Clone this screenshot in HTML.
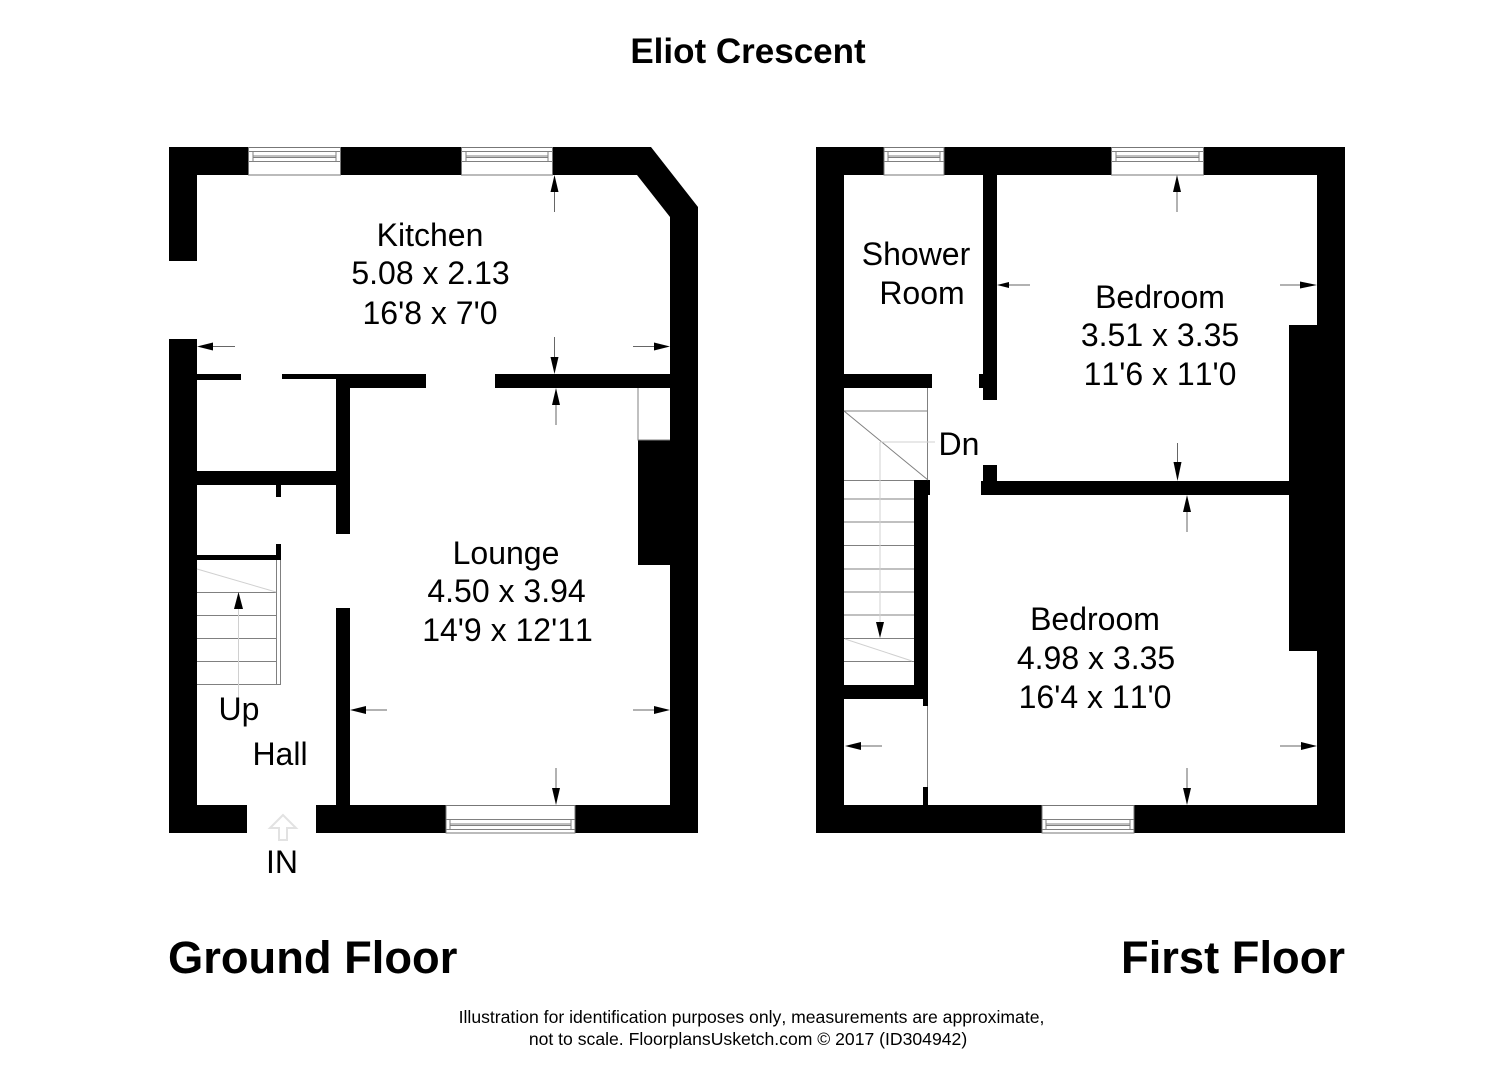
<!DOCTYPE html>
<html><head><meta charset="utf-8"><title>Eliot Crescent</title>
<style>
html,body{margin:0;padding:0;background:#fff}
svg{display:block}
text{font-family:"Liberation Sans",Arial,sans-serif;fill:#000;font-kerning:none}
.r{font-size:32px;text-anchor:middle}
.b{font-weight:bold}
.f{font-size:17.6px;text-anchor:middle}
.g{stroke:#808080;stroke-width:1;fill:none}
.l{stroke:#d0d0d0;stroke-width:1;fill:none}
.w{stroke:#777;stroke-width:1;fill:#fff}
.a{stroke:#666;stroke-width:1;fill:none}
</style></head><body>
<svg width="1496" height="1080" viewBox="0 0 1496 1080" xmlns="http://www.w3.org/2000/svg">
<rect width="1496" height="1080" fill="#fff"/>

<!-- Ground floor walls -->
<g fill="#000">
<polygon points="169,147 651,147 698,207 698,833 169,833 169,339 197,339 197,805 670,805 670,217 637,175 197,175 197,261 169,261"/>
<rect x="197" y="374" width="44" height="6"/>
<rect x="282" y="374" width="144" height="5"/>
<rect x="336" y="374" width="90" height="14"/>
<rect x="336" y="374" width="14" height="160"/>
<rect x="336" y="608" width="14" height="197"/>
<rect x="495" y="374" width="175" height="14"/>
<rect x="638" y="440" width="32" height="125"/>
<rect x="197" y="471" width="153" height="14"/>
<rect x="276" y="485" width="5" height="12"/>
<rect x="197" y="555" width="84" height="5"/>
<rect x="276" y="544" width="5" height="16"/>
</g>
<rect x="247" y="805" width="69" height="29" fill="#fff"/>

<!-- Ground floor fireplace recess -->
<path class="g" d="M638 388V440H670"/>

<!-- Ground floor windows -->
<g>
<rect class="w" x="248.500" y="147.500" width="92" height="27.500"/>
<path class="g" d="M248.500 151.500H340.500M253 156H336M253 157.500H336M248.500 161.500H340.500M253 151.500V161.500M336 151.500V161.500"/>
<rect class="w" x="461.500" y="147.500" width="91" height="27.500"/>
<path class="g" d="M461.500 151.500H552.500M466 156H548M466 157.500H548M461.500 161.500H552.500M466 151.500V161.500M548 151.500V161.500"/>
<rect class="w" x="446" y="805.500" width="129" height="27.500"/>
<path class="g" d="M446 819.500H575M450 824H571M450 825.500H571M446 829.500H575M450 819.500V829.500M571 819.500V829.500"/>
</g>

<!-- Ground floor stairs -->
<path class="g" d="M197 592.500H276M197 615.500H276M197 638.500H276M197 661.500H276M197 684.500H281M276.500 560V684.500M280.500 560V684.500"/>
<path class="l" d="M197 569L276 592M238.500 609V700"/>
<polygon points="238.500,592 234,609 243,609" fill="#000"/>

<!-- IN arrow -->
<polygon points="283,815 270,828 279,828 279,840 287,840 287,828 296,828" fill="#fff" stroke="#e2e2e2" stroke-width="2"/>

<!-- Ground floor dimension arrows -->
<g>
<path class="a" d="M554.500 192V212"/><polygon points="554.500,175 550.500,192 558.500,192"/>
<path class="a" d="M213 346.500H235"/><polygon points="197,346.500 213,342.500 213,350.500"/>
<path class="a" d="M633 346.500H654"/><polygon points="670,346.500 654,342.500 654,350.500"/>
<path class="a" d="M554.500 337V357"/><polygon points="554.500,374 550.500,357 558.500,357"/>
<path class="a" d="M556 405V425"/><polygon points="556,388 552,405 560,405"/>
<path class="a" d="M366 710H387"/><polygon points="350,710 366,706 366,714"/>
<path class="a" d="M633 710H654"/><polygon points="670,710 654,706 654,714"/>
<path class="a" d="M556 768V788"/><polygon points="556,805 552,788 560,788"/>
</g>

<!-- First floor walls -->
<g fill="#000">
<path fill-rule="evenodd" d="M816 147H1345V833H816ZM844 175V805H1317V175Z"/>
<rect x="983" y="175" width="14" height="225"/>
<rect x="979" y="374" width="5" height="14"/>
<rect x="844" y="374" width="88" height="14"/>
<rect x="983" y="465" width="14" height="16"/>
<rect x="981" y="481" width="308" height="14"/>
<rect x="1289" y="325" width="30" height="326"/>
<rect x="914" y="480" width="14" height="219"/>
<rect x="914" y="480" width="16" height="15"/>
<rect x="844" y="685" width="84" height="14"/>
<rect x="923" y="699" width="5" height="7"/>
<rect x="923" y="787" width="5" height="18"/>
</g>

<!-- First floor windows -->
<g>
<rect class="w" x="884" y="147.500" width="60" height="27.500"/>
<path class="g" d="M884 151.500H944M888 156H940M888 157.500H940M884 161.500H944M888 151.500V161.500M940 151.500V161.500"/>
<rect class="w" x="1111.500" y="147.500" width="92" height="27.500"/>
<path class="g" d="M1111.500 151.500H1203.500M1116 156H1199M1116 157.500H1199M1111.500 161.500H1203.500M1116 151.500V161.500M1199 151.500V161.500"/>
<rect class="w" x="1042" y="805.500" width="92" height="27.500"/>
<path class="g" d="M1042 819.500H1134M1046 824H1130M1046 825.500H1130M1042 829.500H1134M1046 819.500V829.500M1130 819.500V829.500"/>
</g>

<!-- First floor stairs -->
<path class="g" d="M927.500 388V480M844 411H928M844 411L928 480M844 480.500H914M844 499H914M844 522H914M844 545.500H914M844 569H914M844 592H914M844 615H914M844 638.500H914M844 661.500H914M927.500 706V787"/>
<path class="l" d="M880 442V622M880 442H935M845 639L912 661"/>
<polygon points="880,638 876,622 884,622" fill="#000"/>

<!-- First floor dimension arrows -->
<g>
<path class="a" d="M1177 192V212"/><polygon points="1177,175 1173,192 1181,192"/>
<path class="a" d="M1009 285H1030"/><polygon points="997,285 1009,282 1009,288"/>
<path class="a" d="M1280 285H1301"/><polygon points="1317,285 1300,281.500 1300,288.500"/>
<path class="a" d="M1177.500 443V463"/><polygon points="1177.500,481 1173.500,462 1181.500,462"/>
<path class="a" d="M1187 512V532"/><polygon points="1187,495 1183,512 1191,512"/>
<path class="a" d="M861 746H882"/><polygon points="845,746 861,742 861,750"/>
<path class="a" d="M1280 746H1301"/><polygon points="1317,746 1301,742 1301,750"/>
<path class="a" d="M1187 768V788"/><polygon points="1187,805 1183,788 1191,788"/>
</g>

<!-- Labels -->
<text x="748" y="63" font-size="35" class="b" text-anchor="middle">Eliot Crescent</text>
<text x="430" y="246" class="r">Kitchen</text>
<text x="430.500" y="284" class="r">5.08 x 2.13</text>
<text x="430" y="324" class="r">16'8 x 7'0</text>
<text x="506" y="564" class="r">Lounge</text>
<text x="506.500" y="602" class="r">4.50 x 3.94</text>
<text x="507.500" y="641" class="r">14'9 x 12'11</text>
<text x="916" y="265" class="r">Shower</text>
<text x="922" y="304" class="r">Room</text>
<text x="1160" y="308" class="r">Bedroom</text>
<text x="1160" y="346" class="r">3.51 x 3.35</text>
<text x="1160" y="385" class="r">11'6 x 11'0</text>
<text x="1095" y="630" class="r">Bedroom</text>
<text x="1096" y="669" class="r">4.98 x 3.35</text>
<text x="1095" y="708" class="r">16'4 x 11'0</text>
<text x="959" y="455" class="r">Dn</text>
<text x="239" y="720" class="r">Up</text>
<text x="280" y="765" class="r">Hall</text>
<text x="282" y="873" class="r">IN</text>
<text x="168" y="973" font-size="45.3" class="b">Ground Floor</text>
<text x="1345" y="973" font-size="45.3" class="b" text-anchor="end">First Floor</text>
<text x="751.500" y="1023" class="f">Illustration for identification purposes only, measurements are approximate,</text>
<text x="748" y="1045" class="f">not to scale. FloorplansUsketch.com © 2017 (ID304942)</text>
</svg>
</body></html>
